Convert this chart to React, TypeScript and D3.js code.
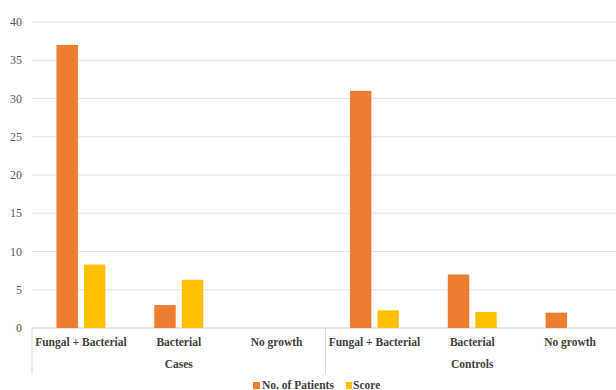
import React from "react";
import * as d3 from "d3";

const groups = ["Cases", "Controls"];
const categories = ["Fungal + Bacterial", "Bacterial", "No growth"];
const seriesNames = ["No. of Patients", "Score"];
const patients = [37, 3, 0, 31, 7, 2];
const scores = [8.3, 6.3, 0, 2.3, 2.1, 0];
const yTicks = [0, 5, 10, 15, 20, 25, 30, 35, 40];
const colors = ["#ED7D31", "#FFC000"];

const W = 616, H = 390;
const left = 32, right = 619, top = 22, bottom = 328;

export default function App() {
  const items = groups.flatMap((g, gi) => categories.map((c, ci) => ({ key: `${gi}-${ci}`, group: g, cat: c, i: gi * 3 + ci })));
  const x = d3.scaleBand<string>().domain(items.map(d => d.key)).range([left, right]).paddingInner(0).paddingOuter(0);
  const inner = d3.scaleBand<number>().domain([0, 1]).range([0, x.bandwidth()]).paddingInner(0.22).paddingOuter(0.89);
  const y = d3.scaleLinear().domain([0, 40]).range([bottom, top]);
  const font = "Liberation Serif";
  const vals = [patients, scores];
  return (
    <svg width={W} height={H} style={{ position: "absolute", left: 0, top: 0, background: "#fff" }}>
      {yTicks.map(t => (
        <g key={t}>
          <line x1={left} x2={W} y1={y(t)} y2={y(t)} stroke={t === 0 ? "#d0d0d0" : "#e4e4e4"} strokeWidth={1} />
          <text x={22} y={y(t) + 4} textAnchor="end" fontFamily={font} fontSize={12} fill="#595959">{t}</text>
        </g>
      ))}
      {items.map(d => (
        <g key={d.key}>
          {vals.map((v, si) => (
            <rect key={si} x={(x(d.key) as number) + (inner(si) as number)} width={inner.bandwidth()} y={y(v[d.i])} height={bottom - y(v[d.i])} fill={colors[si]} />
          ))}
          <text x={(x(d.key) as number) + x.bandwidth() / 2} y={346} textAnchor="middle" fontFamily={font} fontWeight="bold" fontSize={11.5} fill="#404040">{d.cat}</text>
        </g>
      ))}
      {groups.map((g, gi) => {
        const x0 = x(`${gi}-0`) as number;
        const x1 = (x(`${gi}-2`) as number) + x.bandwidth();
        return (
          <g key={g}>
            <line x1={x0} x2={x0} y1={bottom} y2={374} stroke="#d9d9d9" />
            <text x={(x0 + x1) / 2} y={368} textAnchor="middle" fontFamily={font} fontWeight="bold" fontSize={11.5} fill="#404040">{g}</text>
          </g>
        );
      })}
      <g fontFamily={font} fontWeight="bold" fontSize={11.5} fill="#404040">
        <rect x={253} y={382} width={7} height={7} fill={colors[0]} />
        <text x={262} y={389}>{seriesNames[0]}</text>
        <rect x={346} y={382} width={6} height={7} fill={colors[1]} />
        <text x={353} y={389}>{seriesNames[1]}</text>
      </g>
    </svg>
  );
}
